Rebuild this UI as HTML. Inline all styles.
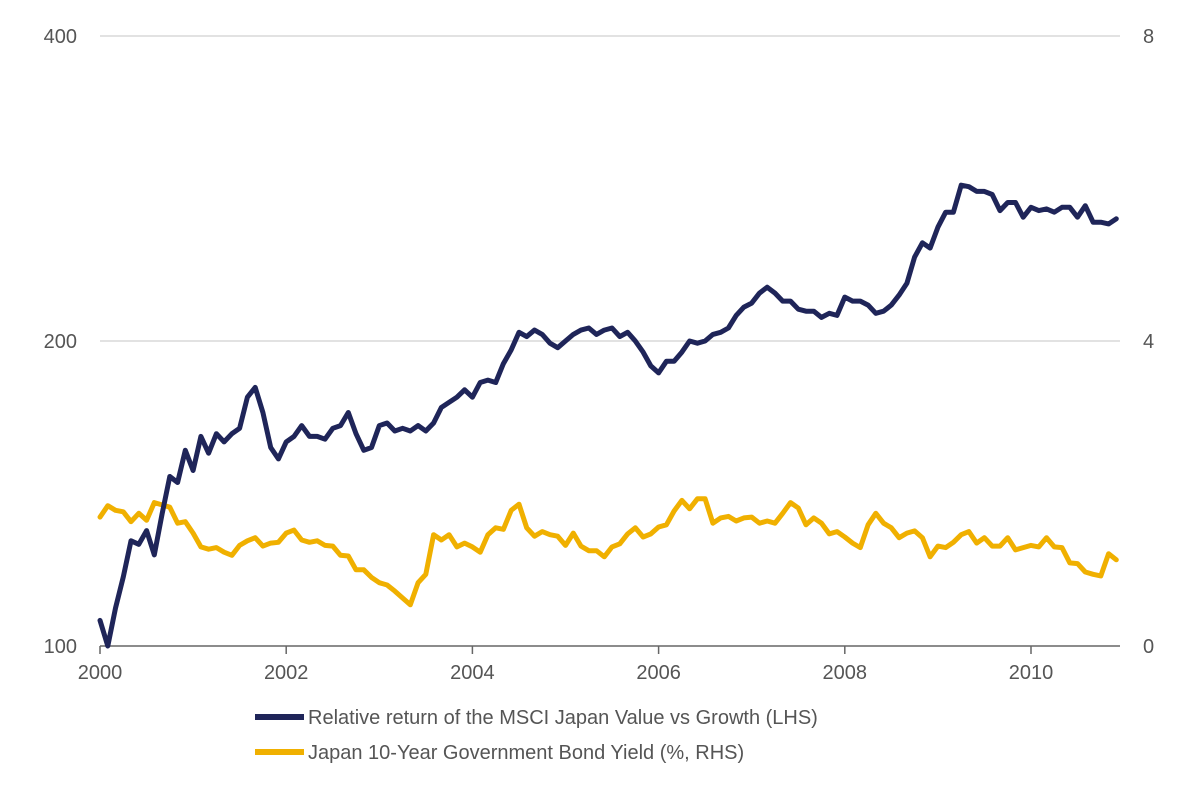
<!DOCTYPE html>
<html><head><meta charset="utf-8"><style>
body{margin:0;background:#fff;}
svg text{font-family:"Liberation Sans",sans-serif;fill:#555;}
</style></head><body>
<svg id="chart" width="1185" height="781">
<g id="grid"></g><g id="axes"></g><g id="series"></g>
<g>
<line x1="255" y1="717" x2="304" y2="717" stroke="#1f2559" stroke-width="6"/>
<text x="308" y="724" font-size="20">Relative return of the MSCI Japan Value vs Growth (LHS)</text>
<line x1="255" y1="752" x2="304" y2="752" stroke="#f0b000" stroke-width="6"/>
<text x="308" y="759" font-size="20">Japan 10-Year Government Bond Yield (%, RHS)</text>
</g>
</svg>
<script>
const startYear = 2000;
const xTicks = [2000,2002,2004,2006,2008,2010];
const leftTicks = [100,200,400];
const rightTicks = [0,4,8];
const msciRelative = [106,100,109,117,127,126,130,123,135,147,145,156,149,161,155,162,159,162,164,176,180,170,157,153,159,161,165,161,161,160,164,165,170,162,156,157,165,166,163,164,163,165,163,166,172,174,176,179,176,182,183,182,190,196,204,202,205,203,199,197,200,203,205,206,203,205,206,202,204,200,195,189,186,191,191,195,200,199,200,203,204,206,212,216,218,223,226,223,219,219,215,214,214,211,213,212,221,219,219,217,213,214,217,222,228,242,250,247,259,268,268,285,284,281,281,279,269,274,274,265,271,269,270,268,271,271,265,272,262,262,261,264];
const jgbYield = [1.69,1.84,1.78,1.76,1.63,1.74,1.65,1.88,1.85,1.82,1.61,1.63,1.48,1.30,1.27,1.29,1.23,1.19,1.32,1.38,1.42,1.31,1.35,1.36,1.48,1.52,1.39,1.36,1.38,1.32,1.31,1.19,1.18,1.00,1.00,0.90,0.83,0.80,0.72,0.63,0.54,0.83,0.94,1.46,1.39,1.46,1.30,1.35,1.30,1.23,1.46,1.55,1.53,1.78,1.86,1.55,1.44,1.50,1.46,1.44,1.32,1.48,1.31,1.25,1.25,1.17,1.30,1.34,1.47,1.55,1.43,1.47,1.56,1.59,1.77,1.91,1.80,1.93,1.93,1.61,1.68,1.70,1.64,1.68,1.69,1.61,1.64,1.61,1.74,1.88,1.81,1.59,1.68,1.61,1.47,1.50,1.43,1.35,1.29,1.59,1.74,1.61,1.55,1.42,1.48,1.51,1.42,1.17,1.31,1.29,1.36,1.46,1.50,1.35,1.42,1.31,1.31,1.42,1.26,1.29,1.32,1.30,1.42,1.30,1.29,1.09,1.08,0.97,0.94,0.92,1.21,1.13];

const NS='http://www.w3.org/2000/svg';
const X0=100,X1=1120,Y0=646,YTOP=36;
const xs=t=>X0+(t-2000)*93.1;
const yL=v=>Y0-(Math.log2(v/100))*305;
const yR=v=>Y0-v*76.25;
function mk(tag,parent,attrs){const e=document.createElementNS(NS,tag);for(const k in attrs)e.setAttribute(k,attrs[k]);parent.appendChild(e);return e;}
const grid=document.getElementById('grid'),axes=document.getElementById('axes'),series=document.getElementById('series');
leftTicks.forEach((v,i)=>{
  const y=yL(v);
  if(v!==100){const g=mk('line',grid,{x1:X0,x2:X1,y1:y,y2:y,stroke:'#d9d9d9','stroke-width':1.5});
  
  }
  const t=mk('text',axes,{x:77,y:y+7,'text-anchor':'end','font-size':20});t.textContent=v;
  
  
});
rightTicks.forEach(v=>{
  const t=mk('text',axes,{x:1143,y:yR(v)+7,'font-size':20});t.textContent=v;
  
  
});
const ax=mk('line',axes,{x1:X0,x2:X1,y1:Y0,y2:Y0,stroke:'#666','stroke-width':1.5});


xTicks.forEach(yr=>{
  const x=xs(yr);
  const tk=mk('line',axes,{x1:x,x2:x,y1:Y0,y2:Y0+8,stroke:'#666','stroke-width':1.5});
  
  
  const t=mk('text',axes,{x:x,y:Y0+33,'text-anchor':'middle','font-size':20});t.textContent=yr;
  
  
});
function path(arr,yf,color,name){
  const d=arr.map((v,i)=>(i?'L':'M')+xs(startYear+i/12).toFixed(1)+','+yf(v).toFixed(1)).join('');
  const p=mk('path',series,{d:d,fill:'none',stroke:color,'stroke-width':5,'stroke-linejoin':'round','stroke-linecap':'round'});
  
  
}
path(jgbYield,yR,'#f0b000','jgb-yield-line');
path(msciRelative,yL,'#1f2559','msci-value-growth-line');
</script>
</body></html>
